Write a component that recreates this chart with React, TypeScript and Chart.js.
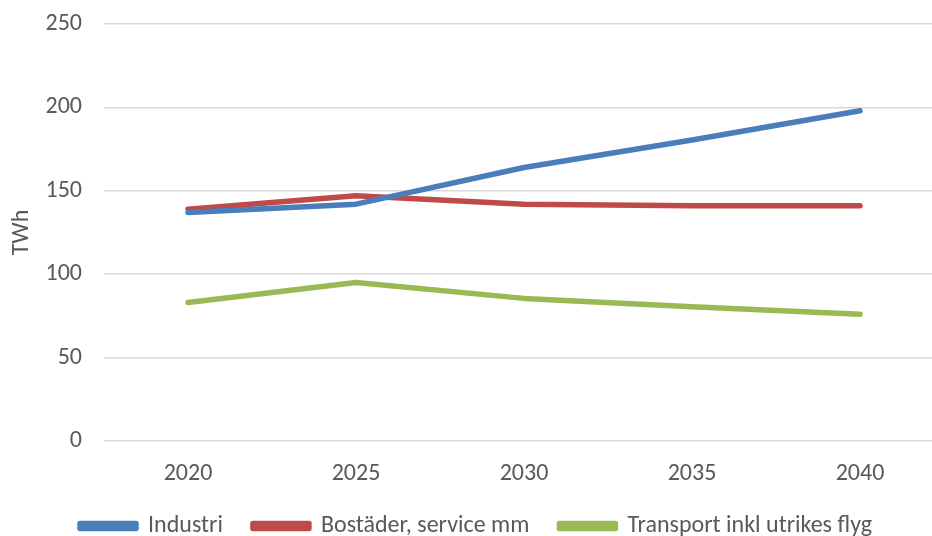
import React, { useEffect, useRef } from "react";
import { Chart, registerables } from "chart.js";

Chart.register(...registerables);

const years = ["2020", "2025", "2030", "2035", "2040"];
const industri = [137, 142, 164, 180.5, 198];
const bostader = [139, 147, 142, 141, 141];
const transport = [83, 95, 85.5, 80.5, 76];
const yTicks = [0, 50, 100, 150, 200, 250];

const FONT = 'Carlito, Lato, "Liberation Sans", Arial, sans-serif';

export default function App() {
  const ref = useRef<HTMLCanvasElement | null>(null);
  useEffect(() => {
    document.body.style.margin = "0";
    const ctx = ref.current!;
    const mk = (label: string, data: number[], color: string) => ({
      label,
      data,
      borderColor: color,
      backgroundColor: color,
      borderWidth: 5.5,
      pointRadius: 0,
      borderCapStyle: "round" as const,
      borderJoinStyle: "round" as const,
      tension: 0,
      fill: false,
    });
    const chart = new Chart(ctx, {
      type: "line",
      data: {
        labels: years,
        datasets: [
          mk("Industri", industri, "#4a7ebb"),
          mk("Bostäder, service mm", bostader, "#be4b48"),
          mk("Transport inkl utrikes flyg", transport, "#98b954"),
        ],
      },
      options: {
        animation: false,
        responsive: false,
        maintainAspectRatio: false,
        layout: { padding: { left: 8, right: 6, top: 24, bottom: -12 } },
        plugins: {
          tooltip: { enabled: false },
          legend: {
            position: "bottom",
            labels: {
              boxWidth: 56,
              boxHeight: 5,
              padding: 30,
              color: "#595959",
              font: { family: FONT, size: 24 },
            },
          },
        },
        scales: {
          x: {
            offset: true,
            grid: { display: false, drawTicks: false },
            border: { display: false },
            ticks: {
              color: "#595959",
              font: { family: FONT, size: 24 },
              padding: 19,
            },
            afterFit: (axis: any) => {
              axis.height = 43;
            },
          },
          y: {
            min: 0,
            max: 250,
            afterBuildTicks: (axis: any) => {
              axis.ticks = yTicks.map((v) => ({ value: v }));
            },
            afterFit: (axis: any) => {
              axis.width = 96;
              axis.paddingTop = 0;
              axis.paddingBottom = 0;
            },
            grid: { color: "#d9d9d9", lineWidth: 1.5, drawTicks: false },
            border: { display: false },
            ticks: {
              color: "#595959",
              font: { family: FONT, size: 24 },
              padding: 22,
            },
            title: {
              display: true,
              text: "TWh",
              color: "#595959",
              font: { family: FONT, size: 24 },
              padding: { top: 0, bottom: 0 },
            },
          },
        },
      },
    });
    return () => chart.destroy();
  }, []);
  return (
    <div style={{ position: "fixed", left: 0, top: 0, width: 932, height: 536, overflow: "hidden", background: "#fff" }}>
      <canvas ref={ref} width={950} height={536} style={{ display: "block" }} />
    </div>
  );
}
